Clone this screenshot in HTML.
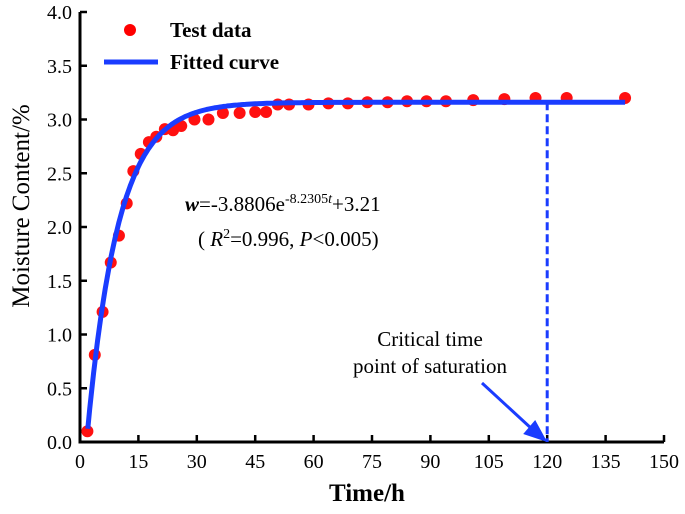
<!DOCTYPE html>
<html><head><meta charset="utf-8"><style>
body{margin:0;background:#fff}
svg text{font-family:"Liberation Serif",serif;fill:#000}
</style></head><body>
<svg id="chart" width="685" height="509" viewBox="0 0 685 509">
<g id="axes"></g>
<g id="marks"></g>
<g>
<circle cx="130" cy="30" r="6" fill="#ff0000"/>
<text x="170" y="37" font-size="21" font-weight="bold">Test data</text>
<line x1="104" y1="62" x2="158" y2="62" stroke="#1a3cff" stroke-width="5"/>
<text x="170" y="69" font-size="21" font-weight="bold">Fitted curve</text>
</g>
<text x="185" y="211" font-size="21"><tspan font-style="italic" font-weight="bold">w</tspan>=-3.8806e<tspan dy="-8" font-size="14">-8.2305</tspan><tspan font-size="14" font-style="italic">t</tspan><tspan dy="8">+3.21</tspan></text>
<text x="198" y="246" font-size="21">(  <tspan font-style="italic">R</tspan><tspan dy="-8" font-size="14">2</tspan><tspan dy="8">=0.996,  </tspan><tspan font-style="italic">P</tspan>&lt;0.005)</text>
<text x="430" y="346" font-size="21" text-anchor="middle">Critical time</text>
<text x="430" y="373" font-size="21" text-anchor="middle">point of saturation</text>
<text x="367" y="501" font-size="25" font-weight="bold" text-anchor="middle">Time/h</text>
<text transform="translate(29,206) rotate(-90)" font-size="25" text-anchor="middle">Moisture Content/%</text>
</svg>
<script>
const times=[1.9,3.8,5.8,7.9,10,12,13.7,15.6,17.7,19.6,21.8,23.9,26,29.4,33,36.7,41,45,47.8,50.8,53.7,58.7,63.8,68.8,73.8,79,84,89,94,101,109,117,125,140];
const moisture=[0.1,0.81,1.21,1.67,1.92,2.22,2.52,2.68,2.79,2.84,2.91,2.90,2.94,3.0,3.0,3.06,3.06,3.07,3.07,3.14,3.14,3.14,3.15,3.15,3.16,3.16,3.17,3.17,3.17,3.18,3.19,3.20,3.20,3.20];
const xTicks=[0,15,30,45,60,75,90,105,120,135,150];
const yTicks=[0.0,0.5,1.0,1.5,2.0,2.5,3.0,3.5,4.0];
const fitParams=[3.16,3.9,0.125];
const fitRange=[2,140];
const criticalTime=[120];
const NS="http://www.w3.org/2000/svg";
const X0=80,X1=664,Y0=442,Y1=12;
const sx=t=>X0+(t-0)/(150)*(X1-X0);
const sy=v=>Y0-(v/4)*(Y0-Y1);
function mk(tag,attrs,parent){const e=document.createElementNS(NS,tag);for(const k in attrs)e.setAttribute(k,attrs[k]);parent.appendChild(e);return e;}
const axes=document.getElementById('axes'),marks=document.getElementById('marks');
let a=mk('path',{d:`M${X0},${Y1} V${Y0} H${X1}`,fill:'none',stroke:'#000','stroke-width':3},axes);


xTicks.forEach(t=>{
 const l=mk('line',{x1:sx(t),x2:sx(t),y1:Y0,y2:Y0-7,stroke:'#000','stroke-width':2.5},axes);
 
 
 const tx=mk('text',{x:sx(t),y:Y0+26,'font-size':20,'text-anchor':'middle'},axes);tx.textContent=t;
 
 
});
yTicks.forEach(v=>{
 const l=mk('line',{x1:X0,x2:X0+7,y1:sy(v),y2:sy(v),stroke:'#000','stroke-width':2.5},axes);
 
 
 const tx=mk('text',{x:X0-8,y:sy(v)+7,'font-size':20,'text-anchor':'end'},axes);tx.textContent=v.toFixed(1);
 
 
});
const [c,A,k]=fitParams;
const fit=t=>c-A*Math.exp(-k*t);
let d='';for(let t=fitRange[0];t<=fitRange[1];t+=0.5){d+=(d?'L':'M')+sx(t).toFixed(1)+','+sy(fit(t)).toFixed(1);}
times.forEach((t,i)=>{
 const p=mk('circle',{cx:sx(t),cy:sy(moisture[i]),r:6,fill:'#ff1010'},marks);
 
 
});
const fl=mk('path',{d:d,fill:'none',stroke:'#1a3cff','stroke-width':5,'stroke-linejoin':'round'},marks);


const ct=criticalTime[0];
const dl=mk('line',{x1:sx(ct),x2:sx(ct),y1:sy(fit(ct)),y2:Y0,stroke:'#1a3cff','stroke-width':3,'stroke-dasharray':'8,4'},marks);


const ar=mk('line',{x1:482,y1:383,x2:sx(ct)-12,y2:Y0-10,stroke:'#1a3cff','stroke-width':3},marks);


const hx=sx(ct),hy=Y0;
const ah=mk('polygon',{points:`${hx},${hy} ${hx-24},${hy-8} ${hx-12},${hy-22}`,fill:'#1a3cff'},marks);


</script>
</body></html>
